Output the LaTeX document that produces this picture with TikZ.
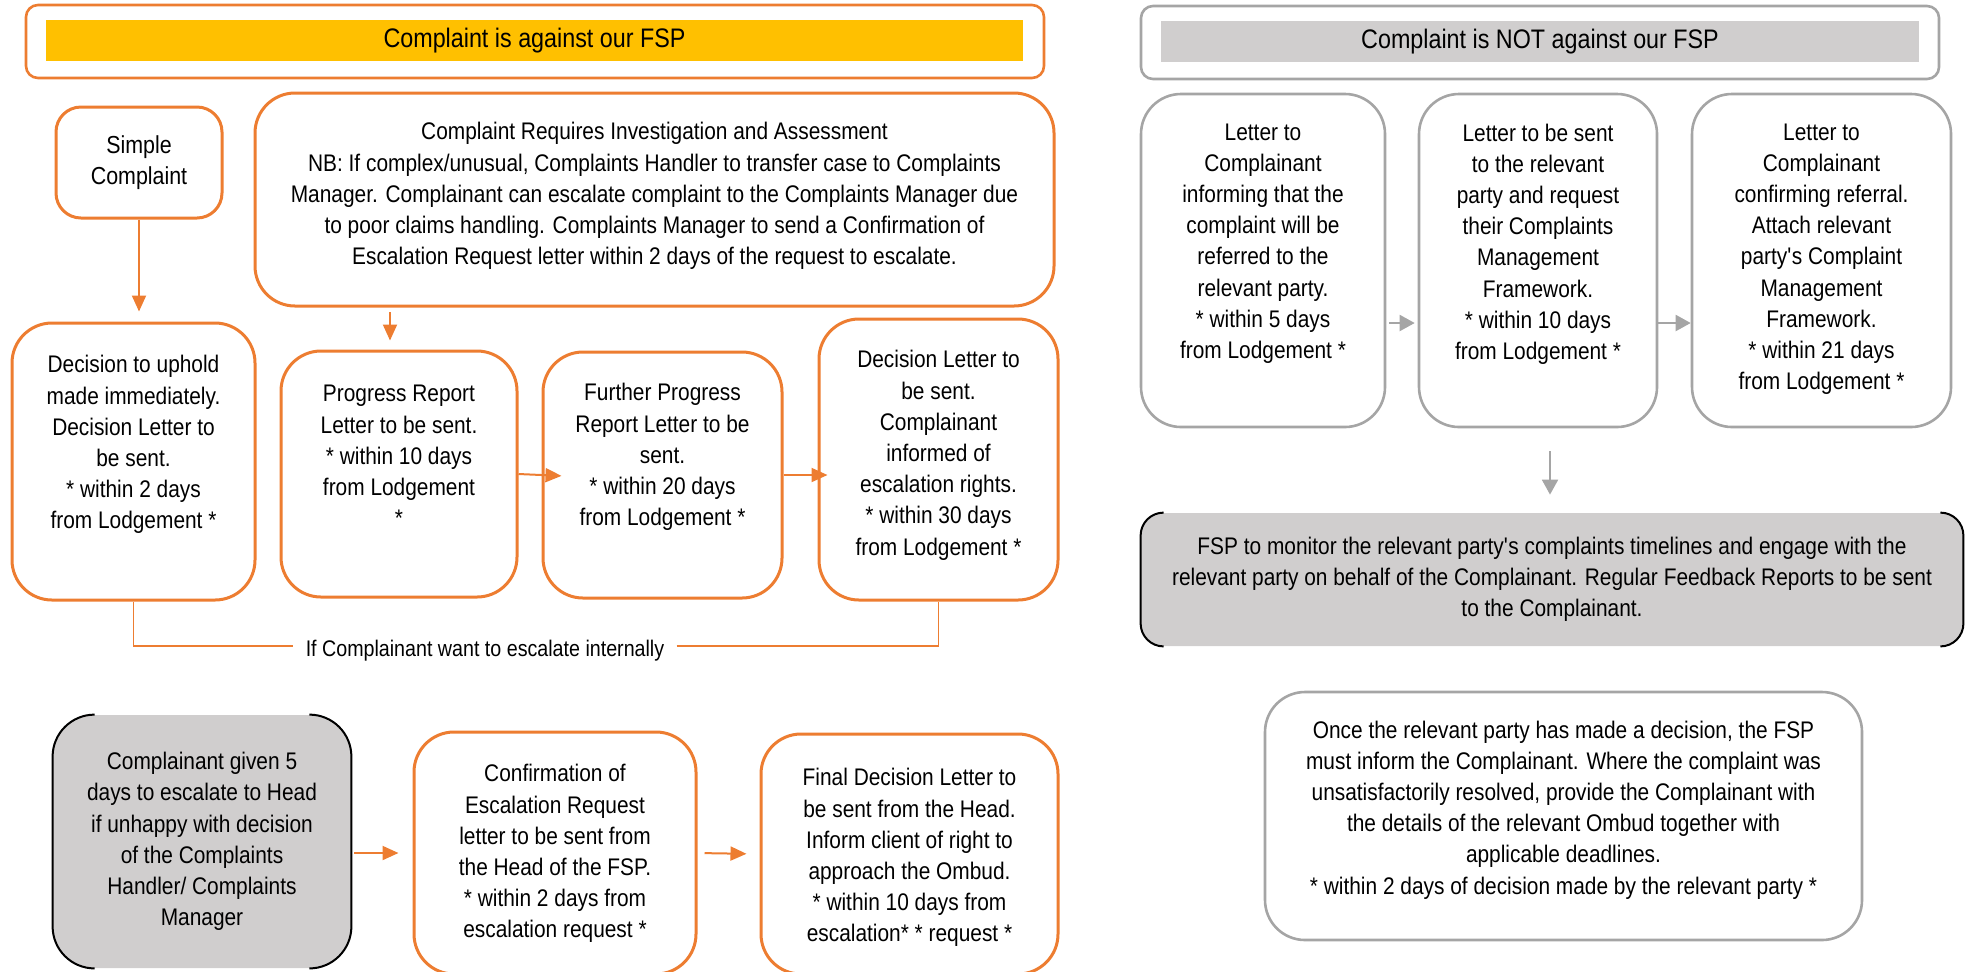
\documentclass[tikz,border=0pt]{standalone}
\usepackage{fontspec}
\setmainfont{Liberation Sans}[FakeStretch=0.87]
\usetikzlibrary{positioning,arrows.meta}

\definecolor{fspOrange}{HTML}{ED7D31}
\definecolor{fspYellow}{HTML}{FFC000}
\definecolor{fspGrey}{HTML}{D0CECE}
\definecolor{fspLine}{HTML}{A5A5A5}

\begin{document}
\begin{tikzpicture}[x=0.5pt,y=-0.5pt,
    obox/.style={draw=fspOrange, line width=1.5pt, fill=white, rounded corners=20pt, inner sep=0pt},
    gbox/.style={draw=fspLine, line width=1.3pt, fill=white, rounded corners=20pt, inner sep=0pt},
    hbox/.style={fill=fspGrey, rounded corners=21pt},
    txt/.style={align=center, inner sep=0pt, font=\fontsize{12pt}{15.6pt}\selectfont},
    oarrow/.style={draw=fspOrange, line width=1pt, -{Triangle[length=8pt,width=7pt]}},
    garrow/.style={draw=fspLine, line width=1pt, -{Triangle[length=7.5pt,width=8pt]}},
    oline/.style={draw=fspOrange, line width=0.7pt},
    bside/.style={draw=black, line width=1pt}]
\useasboundingbox (0,0) rectangle (1968,971);

% complaint against our FSP
\node[obox, rounded corners=6pt, line width=1.3pt, minimum width=509pt, minimum height=36.5pt] (againstframe) at (535,41.5) {};
\node[fill=fspYellow, minimum width=488.5pt, minimum height=20.5pt, inner sep=0pt, font=\fontsize{13.4pt}{16pt}\selectfont] (against) at (534.5,40.5) {Complaint is against our FSP};

\node[obox, txt, rounded corners=12.5pt, minimum width=83pt, minimum height=55.5pt, font=\fontsize{12.3pt}{15.5pt}\selectfont] (simple) at (139,162.5) {Simple\\Complaint};
\node[obox, minimum width=399.5pt, minimum height=106.5pt] (invest) at (654.5,199.5) {};
\node[txt, below=15.25pt of invest.north] (invest_txt) {Complaint Requires Investigation and Assessment\\
  NB: If complex/unusual, Complaints Handler to transfer case to Complaints\\
  Manager. Complainant can escalate complaint to the Complaints Manager due\\
  to poor claims handling. Complaints Manager to send a Confirmation of\\
  Escalation Request letter within 2 days of the request to escalate.};

\node[obox, minimum width=121.5pt, minimum height=138.5pt] (dec1) at (133.5,461.5) {};
\node[obox, minimum width=118pt, minimum height=123pt] (prog) at (399,474) {};
\node[obox, minimum width=119.5pt, minimum height=123pt] (furth) at (662.5,475) {};
\node[obox, minimum width=119.5pt, minimum height=140.5pt] (decl) at (938.5,459.5) {};

\node[txt, below=16.75pt of dec1.north] (dec1_txt) {Decision to uphold\\made immediately.\\Decision Letter to\\be sent.\\* within 2 days\\from Lodgement *};
\node[txt, below=17.75pt of prog.north] (prog_txt) {Progress Report\\Letter to be sent.\\* within 10 days\\from Lodgement\\*};
\node[txt, below=16.25pt of furth.north] (furth_txt) {Further Progress\\Report Letter to be\\sent.\\* within 20 days\\from Lodgement *};
\node[txt, below=16.25pt of decl.north] (decl_txt) {Decision Letter to\\be sent.\\Complainant\\informed of\\escalation rights.\\* within 30 days\\from Lodgement *};

\node[inner xsep=6pt, inner ysep=0pt, font=\fontsize{11.3pt}{14pt}\selectfont] (esc) at (485,651) {If Complainant want to escalate internally};

\coordinate (invtap) at (390,306);
\draw[oarrow, shorten >=5pt] (simple.south) -- (simple.south |- dec1.north);
\draw[oarrow, shorten <=3pt, shorten >=4.5pt] (invtap) -- (invtap |- prog.north);
\draw[oarrow, shorten >=-10pt] (prog.east) -- (furth.west);
\draw[oarrow, shorten >=-5pt] (furth.east) -- (furth.east -| decl.west);
\draw[oline] (dec1.south) |- ([yshift=2.5pt]esc.west);
\draw[oline] ([yshift=2.5pt]esc.east) -| (decl.south);

% escalation to the Head
\node[hbox, txt, minimum width=149pt, minimum height=126.5pt] (escbox) at (202,841.5) {Complainant given 5\\days to escalate to Head\\if unhappy with decision\\of the Complaints\\Handler/ Complaints\\Manager};
\draw[bside, rounded corners=21pt] ([xshift=21pt]escbox.north west) -- (escbox.north west) -- (escbox.south west) -- ([xshift=21pt]escbox.south west);
\draw[bside, rounded corners=21pt] ([xshift=-21pt]escbox.north east) -- (escbox.north east) -- (escbox.south east) -- ([xshift=-21pt]escbox.south east);

\node[obox, minimum width=141pt, minimum height=121pt] (conf) at (555,853) {};
\node[obox, minimum width=148.5pt, minimum height=120pt] (final) at (909.5,854) {};
\node[txt, below=16.75pt of conf.north] (conf_txt) {Confirmation of\\Escalation Request\\letter to be sent from\\the Head of the FSP.\\* within 2 days from\\escalation request *};
\node[txt, below=17.75pt of final.north] (final_txt) {Final Decision Letter to\\be sent from the Head.\\Inform client of right to\\approach the Ombud.\\* within 10 days from\\escalation* * request *};

\draw[oarrow, shorten <=1.5pt, shorten >=7pt] (conf.west -| escbox.east) -- (conf.west);
\draw[oarrow, shorten <=3.5pt, shorten >=6.5pt] (conf.east) -- (final.west);

% complaint not against our FSP
\node[gbox, rounded corners=6pt, minimum width=399pt, minimum height=36.5pt] (notframe) at (1540,42.5) {};
\node[fill=fspGrey, minimum width=379pt, minimum height=20.5pt, inner sep=0pt, font=\fontsize{13.4pt}{16pt}\selectfont] (notagainst) at (1540,41.5) {Complaint is NOT against our FSP};

\node[gbox, minimum width=122pt, minimum height=166.5pt] (let1) at (1263,260.5) {};
\node[gbox, minimum width=119pt, minimum height=166.5pt] (let2) at (1538,260.5) {};
\node[gbox, minimum width=129.5pt, minimum height=166.5pt] (let3) at (1821.5,260.5) {};
\node[txt, below=15.25pt of let1.north] (let1_txt) {Letter to\\Complainant\\informing that the\\complaint will be\\referred to the\\relevant party.\\* within 5 days\\from Lodgement *};
\node[txt, below=15.25pt of let2.north] (let2_txt) {Letter to be sent\\to the relevant\\party and request\\their Complaints\\Management\\Framework.\\* within 10 days\\from Lodgement *};
\node[txt, below=15.25pt of let3.north] (let3_txt) {Letter to\\Complainant\\confirming referral.\\Attach relevant\\party\textquotesingle s Complaint\\Management\\Framework.\\* within 21 days\\from Lodgement *};

\draw[garrow, shorten <=1.5pt, shorten >=1.5pt] ([yshift=-31.25pt]let1.east) -- ([yshift=-31.25pt]let1.east -| let2.west);
\draw[garrow] ([yshift=-31.25pt]let2.east) -- ([yshift=-31.25pt]let2.east -| let3.west);

\node[hbox, txt, rounded corners=11.5pt, minimum width=411pt, minimum height=66.5pt] (monitor) at (1552,579.5) {FSP to monitor the relevant party\textquotesingle s complaints timelines and engage with the\\relevant party on behalf of the Complainant. Regular Feedback Reports to be sent\\to the Complainant.};
\draw[bside, rounded corners=11.5pt] ([xshift=11.5pt]monitor.north west) -- (monitor.north west) -- (monitor.south west) -- ([xshift=11.5pt]monitor.south west);
\draw[bside, rounded corners=11.5pt] ([xshift=-11.5pt]monitor.north east) -- (monitor.north east) -- (monitor.south east) -- ([xshift=-11.5pt]monitor.south east);

\coordinate (montap) at (1550,451);
\draw[garrow, shorten >=9pt] (montap) -- (montap |- monitor.north);

\node[gbox, minimum width=298.5pt, minimum height=124pt] (once) at (1563.5,816) {};
\node[txt, below=14.75pt of once.north] (once_txt) {Once the relevant party has made a decision, the FSP\\must inform the Complainant. Where the complaint was\\unsatisfactorily resolved, provide the Complainant with\\the details of the relevant Ombud together with\\applicable deadlines.\\* within 2 days of decision made by the relevant party *};

\end{tikzpicture}
\end{document}
